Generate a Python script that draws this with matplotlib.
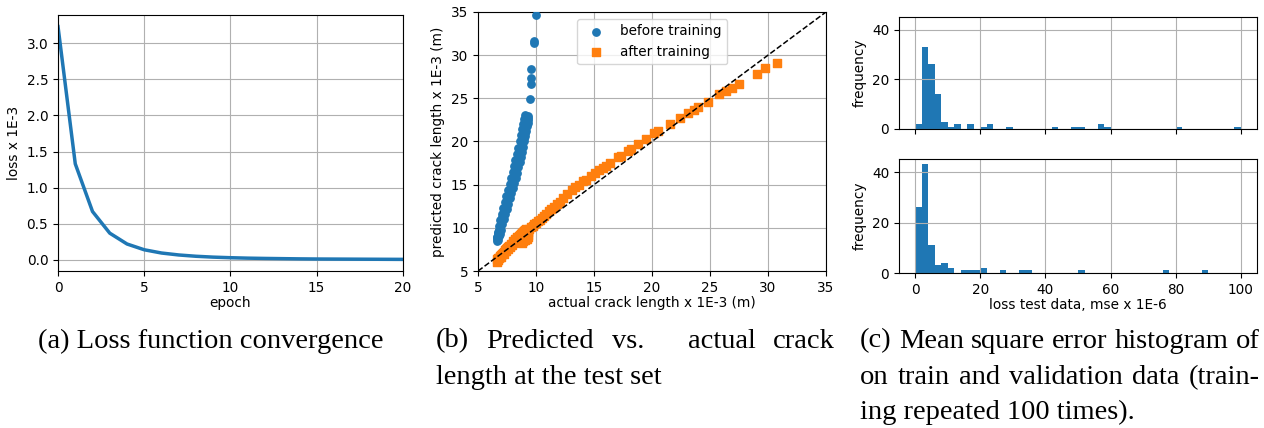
import matplotlib
matplotlib.use("Agg")
import matplotlib.pyplot as plt
import numpy as np

# (a) loss per epoch
epochs = list(range(21))
loss = [3.23, 1.33, 0.67, 0.37, 0.22, 0.14, 0.095, 0.068, 0.05, 0.038, 0.03,
        0.024, 0.02, 0.017, 0.014, 0.012, 0.011, 0.01, 0.009, 0.008, 0.007]

# (b) predicted vs actual crack length
before_x = [6.60, 6.63, 6.67, 6.70, 6.74, 6.78, 6.82, 6.86, 6.90, 6.95, 7.00, 7.04,
            7.08, 7.12, 7.17, 7.22, 7.27, 7.32, 7.37, 7.42, 7.47, 7.52, 7.57, 7.62,
            7.67, 7.72, 7.77, 7.82, 7.87, 7.92, 7.97, 8.02, 8.07, 8.12, 8.17, 8.22,
            8.27, 8.32, 8.37, 8.42, 8.47, 8.52, 8.57, 8.62, 8.67, 8.72, 8.77, 8.82,
            8.87, 8.92, 8.97, 9.01, 9.05, 9.09, 9.13, 9.17, 9.21, 9.25, 9.28, 9.32,
            6.72, 6.80, 6.88, 6.98, 7.10, 7.22, 7.35, 7.48, 7.62, 7.75, 7.88, 8.00,
            8.12, 8.25, 8.37, 8.48, 8.60, 8.70, 8.80, 8.90, 8.98, 9.05, 9.12, 9.18,
            9.24, 9.30,
            6.62, 6.70, 6.80, 6.92, 7.05, 7.18, 7.32, 7.45, 7.58, 7.72, 7.85, 7.98,
            8.10, 8.22, 8.35, 8.48, 8.60, 8.70, 8.80, 8.90, 9.00, 9.08,
            9.30, 9.48, 9.54, 9.57, 9.60, 9.83, 9.85, 10.00]
before_y = [8.45, 8.70, 8.90, 9.15, 9.35, 9.60, 9.80, 10.05, 10.25, 10.50, 10.75, 10.95,
            11.20, 11.40, 11.65, 11.90, 12.10, 12.35, 12.60, 12.80, 13.05, 13.25, 13.50, 13.70,
            13.95, 14.20, 14.40, 14.65, 14.90, 15.10, 15.35, 15.60, 15.85, 16.10, 16.35, 16.60,
            16.85, 17.10, 17.35, 17.60, 17.85, 18.10, 18.40, 18.65, 18.95, 19.20, 19.50, 19.80,
            20.10, 20.40, 20.70, 21.00, 21.30, 21.60, 21.90, 22.20, 22.50, 22.80, 23.00, 22.70,
            8.60, 9.00, 9.30, 9.80, 10.40, 11.00, 11.60, 12.20, 12.80, 13.40, 14.00, 14.60,
            15.20, 15.80, 16.40, 17.00, 17.60, 18.20, 18.80, 19.40, 20.00, 20.60, 21.20, 21.80,
            22.30, 22.50,
            8.90, 9.50, 10.20, 10.90, 11.60, 12.30, 13.00, 13.70, 14.40, 15.10, 15.80, 16.50,
            17.20, 17.90, 18.60, 19.30, 20.00, 20.70, 21.40, 22.00, 22.60, 23.10,
            22.20, 24.90, 26.70, 27.40, 28.40, 31.40, 31.60, 34.60]

after_x = [6.60, 6.62, 6.68, 6.72, 6.78, 6.85, 6.90, 6.96, 7.02, 7.08, 7.14, 7.20,
           7.26, 7.32, 7.38, 7.44, 7.50, 7.56, 7.62, 7.68, 7.74, 7.80, 7.86, 7.92,
           7.98, 8.04, 8.10, 8.16, 8.22, 8.28, 8.34, 8.40, 8.46, 8.52, 8.58, 8.64,
           8.70, 8.76, 8.82, 8.88, 8.94, 9.00, 9.06, 9.12, 9.18, 9.24, 9.30, 9.30,
           9.28, 9.20, 9.05, 8.90, 8.75, 9.40, 9.55, 9.70, 9.85, 10.00, 10.15, 10.30,
           10.50, 10.70, 10.90, 11.10, 11.30, 11.55, 11.80, 12.07, 12.33, 12.67, 13.13, 13.33,
           13.70, 14.05, 14.28, 14.77, 15.10, 15.43, 15.78, 16.06, 16.35, 17.07, 17.36, 17.90,
           18.20, 18.80, 19.45, 20.20, 20.53, 21.53, 22.40, 23.09, 23.66, 24.00, 24.80, 25.79,
           26.40, 26.88, 27.54, 29.07, 29.76, 30.76]
after_y = [6.10, 6.40, 6.25, 6.55, 6.45, 6.60, 6.75, 6.60, 6.85, 6.95, 7.10, 7.00,
           7.25, 7.40, 7.30, 7.50, 7.65, 7.55, 7.75, 7.90, 7.80, 8.00, 8.15, 8.05,
           8.30, 8.45, 8.35, 8.55, 8.70, 8.60, 8.80, 8.95, 8.85, 9.05, 9.20, 9.10,
           9.30, 9.45, 9.35, 9.55, 9.65, 9.60, 9.75, 9.85, 9.80, 9.70, 9.50, 9.20,
           8.90, 8.75, 8.60, 8.45, 8.30, 9.90, 10.05, 10.20, 10.40, 10.60, 10.80, 10.95,
           11.15, 11.40, 11.65, 11.90, 12.15, 12.45, 12.75, 13.00, 13.46, 13.96, 14.40, 14.73,
           15.00, 15.40, 15.58, 15.96, 16.35, 16.65, 16.90, 17.20, 17.50, 18.20, 18.35, 18.90,
           19.10, 19.70, 20.27, 20.96, 21.23, 22.04, 22.70, 23.27, 23.70, 23.96, 24.60, 25.46,
           25.85, 26.15, 26.70, 27.80, 28.46, 29.10]

# (c) histograms of mse, 50 bins of width 2 from 0 to 100
bin_edges = np.linspace(0, 100, 51)
train_counts = [2, 33, 26, 14, 3, 1, 2, 0, 2, 0,
                1, 2, 0, 0, 1, 0, 0, 0, 0, 0,
                0, 1, 0, 0, 1, 1, 0, 0, 2, 1,
                0, 0, 0, 0, 0, 0, 0, 0, 0, 0,
                1, 0, 0, 0, 0, 0, 0, 0, 0, 1]
test_counts = [26, 43, 11, 3, 4, 2, 0, 1, 1, 1,
               2, 0, 0, 1, 0, 0, 1, 1, 0, 0,
               0, 0, 0, 0, 0, 1, 0, 0, 0, 0,
               0, 0, 0, 0, 0, 0, 0, 0, 1, 0,
               0, 0, 0, 0, 1, 0, 0, 0, 0, 0]

TICK = 9.8
CAP = 20.5
SERIF = ["Liberation Serif", "DejaVu Serif"]


def justify(fig, words, x0, x1, y, weights=None):
    """Place words so the line fills x0..x1 (figure fraction), like LaTeX."""
    r = fig.canvas.get_renderer()
    texts = [fig.text(0, y, w, fontsize=CAP, family=SERIF, va="center") for w in words]
    widths = [t.get_window_extent(r).width / fig.bbox.width for t in texts]
    if weights is None:
        weights = [1] * (len(words) - 1)
    unit = (x1 - x0 - sum(widths)) / sum(weights)
    x = x0
    for i, (t, w) in enumerate(zip(texts, widths)):
        t.set_x(x)
        if i < len(weights):
            x += w + unit * weights[i]


def main():
    plt.rcParams["font.size"] = TICK
    fig = plt.figure(figsize=(12.64, 4.28), dpi=100)

    # (a)
    ax = fig.add_axes([0.0459, 0.3668, 0.2729, 0.5982])
    ax.plot(epochs, loss, color="C0", linewidth=2.5)
    ax.set_xlim(0, 20)
    ax.set_xticks([0, 5, 10, 15, 20])
    ax.set_xlabel("epoch", labelpad=1)
    ax.set_ylabel("loss x 1E-3")
    ax.grid(True)

    # (b)
    ax = fig.add_axes([0.3782, 0.3668, 0.2753, 0.6052])
    ax.scatter(before_x, before_y, s=28, marker="o", color="C0", label="before training", zorder=3)
    ax.scatter(after_x, after_y, s=28, marker="s", color="C1", label="after training", zorder=3)
    ax.plot([5, 35], [5, 35], "k--", linewidth=1.1, zorder=4)
    ax.set_xlim(5, 35)
    ax.set_ylim(5, 35)
    ax.set_xlabel("actual crack length x 1E-3 (m)", labelpad=1)
    ax.set_ylabel("predicted crack length x 1E-3 (m)")
    ax.grid(True)
    ax.legend(loc="upper center", scatterpoints=1, fontsize=TICK)

    # (c)
    ax_top = fig.add_axes([0.7112, 0.6986, 0.2833, 0.2617])
    ax_bot = fig.add_axes([0.7112, 0.3621, 0.2833, 0.2664], sharex=ax_top, sharey=ax_top)
    ax_top.hist(bin_edges[:-1], bins=bin_edges, weights=train_counts, color="C0")
    ax_bot.hist(bin_edges[:-1], bins=bin_edges, weights=test_counts, color="C0")
    for a in (ax_top, ax_bot):
        a.set_ylabel("frequency")
        a.grid(True)
        a.set_yticks([0, 20, 40])
    ax_top.tick_params(labelbottom=False)
    ax_bot.set_xlabel("loss test data, mse x 1E-6", labelpad=1)

    # captions
    y1, y2, y3 = 1 - 341 / 428, 1 - 378 / 428, 1 - 412 / 428
    fig.text(0.030, y1, "(a) Loss function convergence",
             fontsize=CAP, family=SERIF, va="center")
    justify(fig, ["(b)", "Predicted", "vs.", "actual", "crack"], 436 / 1264, 835 / 1264, y1,
            weights=[1, 1, 2.5, 1])
    fig.text(436 / 1264, y2, "length at the test set",
             fontsize=CAP, family=SERIF, va="center")
    justify(fig, ["(c)", "Mean", "square", "error", "histogram", "of"], 860 / 1264, 1260 / 1264, y1)
    justify(fig, ["on", "train", "and", "validation", "data", "(train-"], 860 / 1264, 1260 / 1264, y2)
    fig.text(860 / 1264, y3, "ing repeated 100 times).",
             fontsize=CAP, family=SERIF, va="center")

    fig.savefig("out.png", dpi=100)
    plt.close(fig)


if __name__ == "__main__":
    main()
